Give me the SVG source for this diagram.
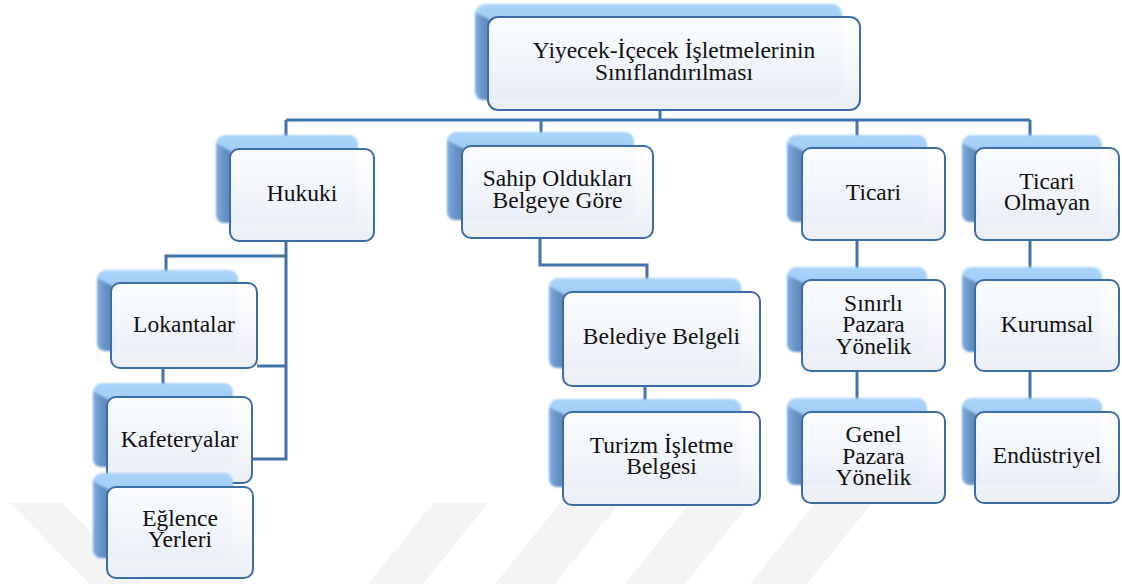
<svg xmlns="http://www.w3.org/2000/svg" width="1122" height="584" viewBox="0 0 1122 584">
  <defs>
    <style>
      .wm { fill: #f4f4f4; }
      .link { fill: none; stroke: #4272a8; stroke-width: 3; stroke-linejoin: miter; }
      .plate { fill: url(#plateFill); }
      .bevel { fill: url(#bevelFill); }
      .face { fill: url(#faceFill); stroke: #3c6ea6; stroke-width: 2; fill-opacity: 0.95; }
      .label { font-family: "Liberation Serif", "Times New Roman", Times, Tinos, "Nimbus Roman", "Noto Serif", "DejaVu Serif", FreeSerif, serif; font-size: 23.5px; fill: #111; text-anchor: middle; }
      .back { filter: url(#soft); }
    </style>
    <linearGradient id="plateFill" x1="0" y1="0" x2="0" y2="1">
      <stop offset="0" stop-color="#a9d3fa"/>
      <stop offset="0.5" stop-color="#94c4f1"/>
      <stop offset="1" stop-color="#86b8ea"/>
    </linearGradient>
    <linearGradient id="bevelFill" x1="0" y1="0" x2="1" y2="0">
      <stop offset="0" stop-color="#80aee0"/>
      <stop offset="0.5" stop-color="#6690c4"/>
      <stop offset="1" stop-color="#5a82b5"/>
    </linearGradient>
    <linearGradient id="faceFill" x1="0" y1="0" x2="0" y2="1">
      <stop offset="0" stop-color="#ffffff"/>
      <stop offset="0.55" stop-color="#f6f7fb"/>
      <stop offset="1" stop-color="#eaedf5"/>
    </linearGradient>
    <filter id="soft" x="-10%" y="-10%" width="120%" height="120%">
      <feGaussianBlur stdDeviation="0.8"/>
    </filter>
  </defs>

  <rect width="1122" height="584" fill="#ffffff"/>

  <!-- faint background stripes along the bottom edge -->
  <g id="background-stripes">
    <polygon class="wm" points="10,503 62,503 142,584 90,584"/>
    <polygon class="wm" points="433,503 488,503 423,584 368,584"/>
    <polygon class="wm" points="560,503 620,503 555,584 495,584"/>
    <polygon class="wm" points="690,503 750,503 685,584 625,584"/>
    <polygon class="wm" points="815,503 872,503 807,584 750,584"/>
  </g>

  <!-- connectors -->
  <g id="connectors">
    <path class="link" d="M660,110 V120"/>
    <path class="link" d="M286,120 H1030"/>
    <path class="link" d="M286,120 V149"/>
    <path class="link" d="M541,120 V146"/>
    <path class="link" d="M857,120 V148"/>
    <path class="link" d="M1030,120 V148"/>
    <path class="link" d="M286,241 V459 H252"/>
    <path class="link" d="M286,256 H166 V283"/>
    <path class="link" d="M286,366 H257"/>
    <path class="link" d="M163,368 V397"/>
    <path class="link" d="M540,238 V265 H647 V292"/>
    <path class="link" d="M645,386 V412"/>
    <path class="link" d="M857,240 V280"/>
    <path class="link" d="M857,371 V412"/>
    <path class="link" d="M1030,240 V280"/>
    <path class="link" d="M1030,371 V412"/>
  </g>

  <!-- root -->
  <g id="node-root">
    <g class="back">
      <rect class="plate" x="475" y="4" width="367" height="96" rx="10"/>
      <path class="bevel" d="M475,12 L492,21 L492,100 L485,100 Q475,100 475,90 Z"/>
    </g>
    <rect class="face" x="488" y="17" width="372" height="93" rx="10"/>
    <text class="label" x="674" y="58">Yiyecek-İçecek İşletmelerinin</text>
    <text class="label" x="674" y="80">Sınıflandırılması</text>
  </g>

  <g id="node-hukuki">
    <g class="back">
      <rect class="plate" x="216" y="135" width="142" height="88" rx="9"/>
      <path class="bevel" d="M216,143 L234,153 L234,223 L225,223 Q216,223 216,214 Z"/>
    </g>
    <rect class="face" x="230" y="149" width="144" height="92" rx="9"/>
    <text class="label" x="302" y="201">Hukuki</text>
  </g>

  <g id="node-sahip">
    <g class="back">
      <rect class="plate" x="447" y="132" width="187" height="88" rx="9"/>
      <path class="bevel" d="M447,140 L466,150 L466,220 L456,220 Q447,220 447,211 Z"/>
    </g>
    <rect class="face" x="462" y="146" width="191" height="92" rx="9"/>
    <text class="label" x="557.5" y="186">Sahip Oldukları</text>
    <text class="label" x="557.5" y="207.5">Belgeye Göre</text>
  </g>

  <g id="node-ticari">
    <g class="back">
      <rect class="plate" x="787" y="135" width="140" height="87" rx="9"/>
      <path class="bevel" d="M787,143 L806,152 L806,222 L796,222 Q787,222 787,213 Z"/>
    </g>
    <rect class="face" x="802" y="148" width="143" height="92" rx="9"/>
    <text class="label" x="873.5" y="200">Ticari</text>
  </g>

  <g id="node-ticari-olmayan">
    <g class="back">
      <rect class="plate" x="962" y="135" width="140" height="87" rx="9"/>
      <path class="bevel" d="M962,143 L979,152 L979,222 L971,222 Q962,222 962,213 Z"/>
    </g>
    <rect class="face" x="975" y="148" width="144" height="92" rx="9"/>
    <text class="label" x="1047" y="188.5">Ticari</text>
    <text class="label" x="1047" y="210">Olmayan</text>
  </g>

  <g id="node-lokantalar">
    <g class="back">
      <rect class="plate" x="97" y="270" width="141" height="81" rx="9"/>
      <path class="bevel" d="M97,278 L115,287 L115,351 L106,351 Q97,351 97,342 Z"/>
    </g>
    <rect class="face" x="111" y="283" width="146" height="85" rx="9"/>
    <text class="label" x="184" y="332">Lokantalar</text>
  </g>

  <g id="node-kafeteryalar">
    <g class="back">
      <rect class="plate" x="93" y="383" width="140" height="84" rx="9"/>
      <path class="bevel" d="M93,391 L111,401 L111,467 L102,467 Q93,467 93,458 Z"/>
    </g>
    <rect class="face" x="107" y="397" width="145" height="86" rx="9"/>
    <text class="label" x="179.5" y="446.5">Kafeteryalar</text>
  </g>

  <g id="node-eglence">
    <g class="back">
      <rect class="plate" x="93" y="473" width="140" height="85" rx="9"/>
      <path class="bevel" d="M93,481 L111,491 L111,558 L102,558 Q93,558 93,549 Z"/>
    </g>
    <rect class="face" x="107" y="487" width="146" height="91" rx="9"/>
    <text class="label" x="180" y="525.5">Eğlence</text>
    <text class="label" x="180" y="547">Yerleri</text>
  </g>

  <g id="node-belediye">
    <g class="back">
      <rect class="plate" x="549" y="278" width="192" height="90" rx="9"/>
      <path class="bevel" d="M549,286 L567,296 L567,368 L558,368 Q549,368 549,359 Z"/>
    </g>
    <rect class="face" x="563" y="292" width="197" height="94" rx="9"/>
    <text class="label" x="661.5" y="344">Belediye Belgeli</text>
  </g>

  <g id="node-turizm">
    <g class="back">
      <rect class="plate" x="549" y="399" width="192" height="88" rx="9"/>
      <path class="bevel" d="M549,407 L567,416 L567,487 L558,487 Q549,487 549,478 Z"/>
    </g>
    <rect class="face" x="563" y="412" width="197" height="93" rx="9"/>
    <text class="label" x="661.5" y="452.5">Turizm İşletme</text>
    <text class="label" x="661.5" y="474">Belgesi</text>
  </g>

  <g id="node-sinirli">
    <g class="back">
      <rect class="plate" x="787" y="267" width="140" height="85" rx="9"/>
      <path class="bevel" d="M787,275 L806,284 L806,352 L796,352 Q787,352 787,343 Z"/>
    </g>
    <rect class="face" x="802" y="280" width="143" height="91" rx="9"/>
    <text class="label" x="873.5" y="310.5">Sınırlı</text>
    <text class="label" x="873.5" y="332">Pazara</text>
    <text class="label" x="873.5" y="353.5">Yönelik</text>
  </g>

  <g id="node-genel">
    <g class="back">
      <rect class="plate" x="787" y="398" width="140" height="87" rx="9"/>
      <path class="bevel" d="M787,406 L806,416 L806,485 L796,485 Q787,485 787,476 Z"/>
    </g>
    <rect class="face" x="802" y="412" width="143" height="91" rx="9"/>
    <text class="label" x="873.5" y="442">Genel</text>
    <text class="label" x="873.5" y="463.5">Pazara</text>
    <text class="label" x="873.5" y="485">Yönelik</text>
  </g>

  <g id="node-kurumsal">
    <g class="back">
      <rect class="plate" x="962" y="267" width="140" height="85" rx="9"/>
      <path class="bevel" d="M962,275 L979,284 L979,352 L971,352 Q962,352 962,343 Z"/>
    </g>
    <rect class="face" x="975" y="280" width="144" height="91" rx="9"/>
    <text class="label" x="1047" y="331.5">Kurumsal</text>
  </g>

  <g id="node-endustriyel">
    <g class="back">
      <rect class="plate" x="962" y="398" width="140" height="87" rx="9"/>
      <path class="bevel" d="M962,406 L979,416 L979,485 L971,485 Q962,485 962,476 Z"/>
    </g>
    <rect class="face" x="975" y="412" width="144" height="91" rx="9"/>
    <text class="label" x="1047" y="463">Endüstriyel</text>
  </g>
</svg>
